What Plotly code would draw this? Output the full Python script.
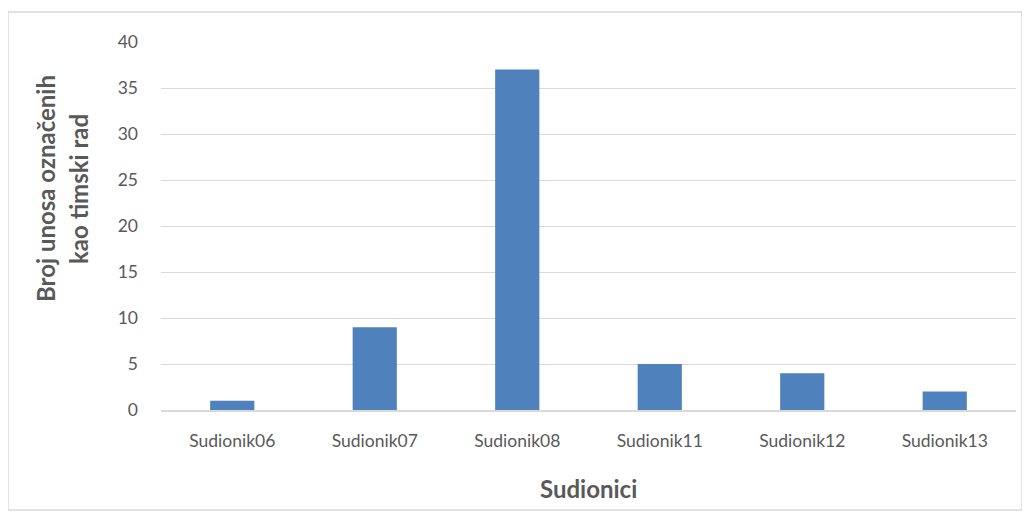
import plotly.graph_objects as go

categories = ["Sudionik06", "Sudionik07", "Sudionik08", "Sudionik11", "Sudionik12", "Sudionik13"]
values = [1, 9, 37, 5, 4, 2]
y_ticks = [0, 5, 10, 15, 20, 25, 30, 35, 40]

FONT = "Lato, Calibri, Carlito, sans-serif"
GRAY = "#595959"

# page is offset by 8px body margin
OFF = 8
W, H = 1022, 512
L, R, T, B = 161 - OFF, 14, 42 - OFF, 110
pw, ph = W - L - R, H - T - B

def px(x):
    return (x - OFF - L) / pw

def py(y):
    return (H - B - (y - OFF)) / ph

fig = go.Figure(go.Bar(x=categories, y=values, marker=dict(color="#4f81bd", line=dict(width=0))))

fig.update_layout(
    width=W, height=H,
    margin=dict(l=L, r=R, t=T, b=B),
    paper_bgcolor="white", plot_bgcolor="white",
    bargap=0.69,
    showlegend=False,
    font=dict(family=FONT, size=17, color=GRAY),
    xaxis=dict(
        showline=True, linecolor="#d9d9d9", linewidth=1.5,
        ticks="", tickfont=dict(size=17.5, color=GRAY), ticklabelstandoff=14,
    ),
    yaxis=dict(
        range=[0, 40], tickvals=y_ticks, showgrid=True, gridcolor="#d9d9d9", gridwidth=1,
        zeroline=False, showline=False, ticks="", ticklabelstandoff=22,
        tickfont=dict(size=17.5, color=GRAY),
    ),
    shapes=[dict(type="rect", xref="paper", yref="paper",
                 x0=px(8), x1=px(1022), y0=py(510), y1=py(12),
                 line=dict(color="#d9d9d9", width=1.5), layer="below")],
    annotations=[
        dict(text="<b>Sudionici</b>", xref="paper", yref="paper", x=px(588), y=py(488),
             xanchor="center", yanchor="middle", showarrow=False, font=dict(size=24, color=GRAY)),
        dict(text="<b>Broj unosa označenih</b>", xref="paper", yref="paper", x=px(45), y=py(189),
             xanchor="center", yanchor="middle", textangle=-90, showarrow=False, font=dict(size=24, color=GRAY)),
        dict(text="<b>kao timski rad</b>", xref="paper", yref="paper", x=px(78), y=py(189),
             xanchor="center", yanchor="middle", textangle=-90, showarrow=False, font=dict(size=24, color=GRAY)),
    ],
)

fig.write_html("out.html")
